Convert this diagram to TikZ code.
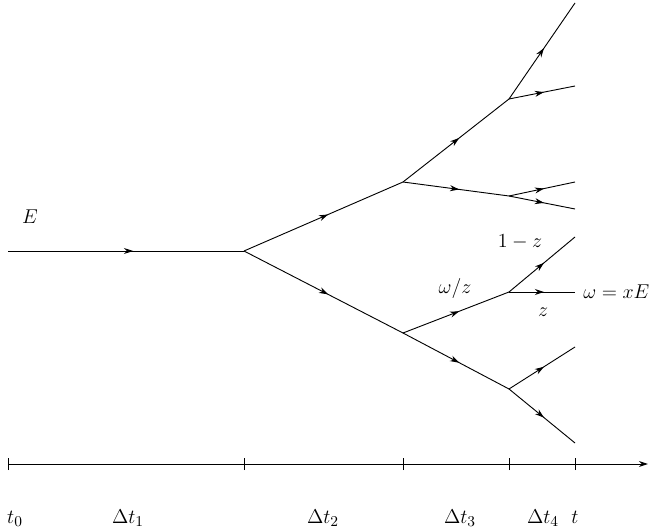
\documentclass[tikz,border=0pt]{standalone}
\usetikzlibrary{arrows.meta,decorations.markings}
\begin{document}
\begin{tikzpicture}[x=0.6pt,y=-0.6pt,
  flow/.style={line width=0.55pt, postaction={decorate},
    decoration={markings, mark=at position 0.53 with {\arrow{Stealth[length=5.5pt,width=3.6pt]}}}},
  axisline/.style={line width=0.55pt,-{Stealth[length=5.5pt,width=3.6pt]}},
  tickmark/.style={line width=0.55pt},
  lbl/.style={inner sep=0pt,font=\fontsize{12.6}{15}\selectfont}]
\useasboundingbox (0,0) rectangle (654,527);
% vertices
\coordinate (S) at (8,251);
\coordinate (A) at (244,251);
\coordinate (B) at (403,182);
\coordinate (C) at (403,333);
\coordinate (D) at (509,99);
\coordinate (E) at (509,196);
\coordinate (F) at (509,292);
\coordinate (G) at (509,389);
\coordinate (D1) at (575,3);
\coordinate (D2) at (575,86);
\coordinate (E1) at (575,182);
\coordinate (E2) at (575,209);
\coordinate (F1) at (575,237);
\coordinate (F2) at (575,292);
\coordinate (G1) at (575,347);
\coordinate (G2) at (575,443);
% tree
\draw[flow] (S) -- (A);
\draw[flow] (A) -- (B);
\draw[flow] (A) -- (C);
\draw[flow] (B) -- (D);
\draw[flow] (B) -- (E);
\draw[flow] (C) -- (F);
\draw[flow] (C) -- (G);
\draw[flow] (D) -- (D1);
\draw[flow] (D) -- (D2);
\draw[flow] (E) -- (E1);
\draw[flow] (E) -- (E2);
\draw[flow] (F) -- (F1);
\draw[flow] (F) -- (F2);
\draw[flow] (G) -- (G1);
\draw[flow] (G) -- (G2);
% labels
\node[lbl] (lE) at (30,217) {$E$};
\node[lbl] (l1z) at (520,242) {$1-z$};
\node[lbl] (lwz) at (455,289) {$\omega/z$};
\node[lbl,anchor=west] (lw) at (583,292) {$\omega=xE$};
\node[lbl] (lz) at (543,312) {$z$};
% axis
\coordinate (X0) at (8,464);
\coordinate (X1) at (244,464);
\coordinate (X2) at (403,464);
\coordinate (X3) at (509,464);
\coordinate (X4) at (575,464);
\coordinate (XE) at (648,464);
\draw[axisline] (X0) -- (XE);
\foreach \p in {X0,X1,X2,X3,X4}
  \draw[tickmark] ([yshift=-6*0.6pt]\p) -- ([yshift=6*0.6pt]\p);
\node[lbl,anchor=base] (t0) at (15,523) {$t_0$};
\node[lbl,anchor=base] (dt1) at (128,523) {$\Delta t_1$};
\node[lbl,anchor=base] (dt2) at (323,523) {$\Delta t_2$};
\node[lbl,anchor=base] (dt3) at (460,523) {$\Delta t_3$};
\node[lbl,anchor=base] (dt4) at (543,523) {$\Delta t_4$};
\node[lbl,anchor=base] (tt) at (575,523) {$t$};
\end{tikzpicture}
\end{document}
